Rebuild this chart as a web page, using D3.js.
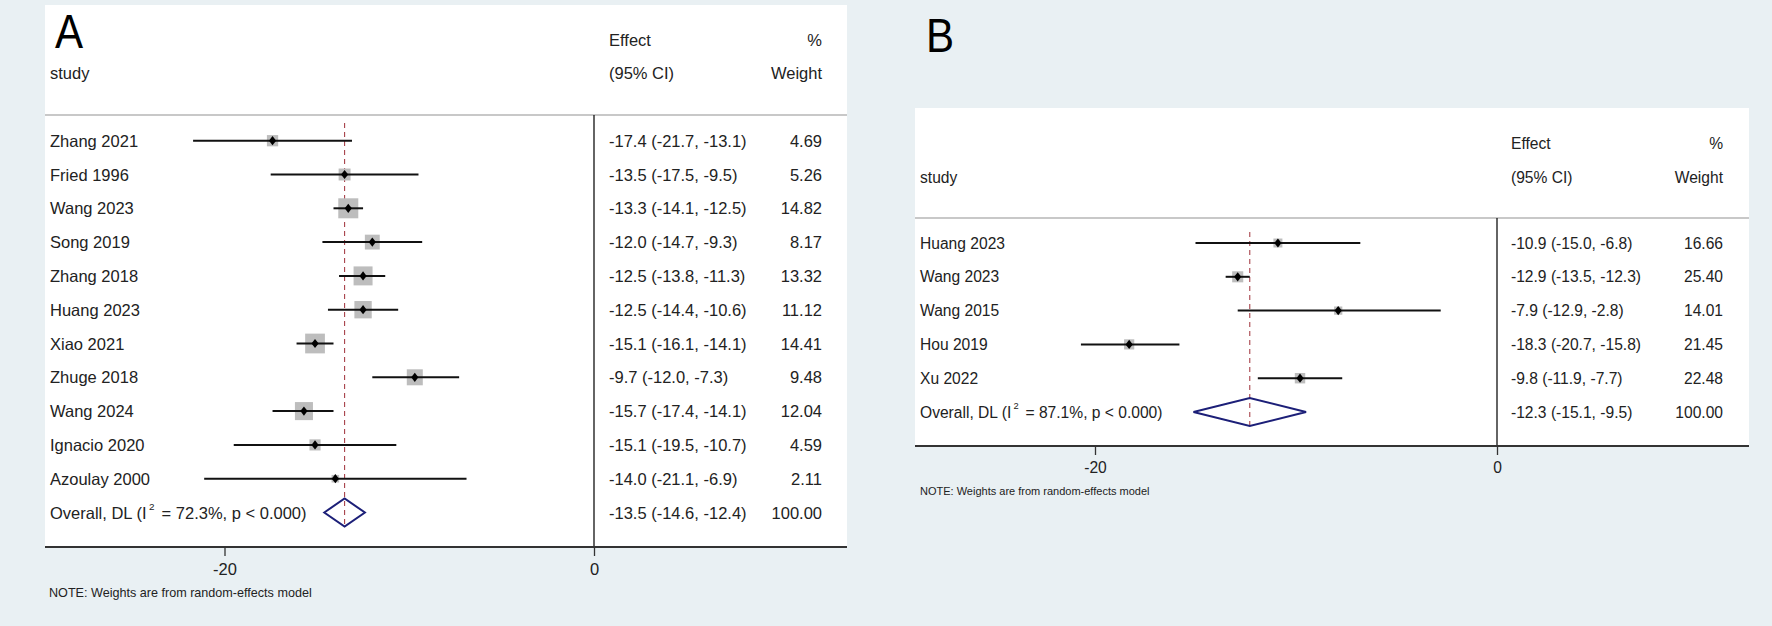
<!DOCTYPE html>
<html><head><meta charset="utf-8">
<script src="https://cdn.jsdelivr.net/npm/d3@7"></script>
<style>
html,body{margin:0;padding:0;background:#e9f0f3;}
svg{display:block;font-family:"Liberation Sans",Arial,sans-serif;}
</style></head>
<body><svg id="chart" width="1772" height="626"></svg>
<script>
// Panel A data
const studiesA = ["Zhang 2021","Fried 1996","Wang 2023","Song 2019","Zhang 2018","Huang 2023","Xiao 2021","Zhuge 2018","Wang 2024","Ignacio 2020","Azoulay 2000"];
const effectA = [-17.4,-13.5,-13.3,-12.0,-12.5,-12.5,-15.1,-9.7,-15.7,-15.1,-14.0];
const lowerA  = [-21.7,-17.5,-14.1,-14.7,-13.8,-14.4,-16.1,-12.0,-17.4,-19.5,-21.1];
const upperA  = [-13.1,-9.5,-12.5,-9.3,-11.3,-10.6,-14.1,-7.3,-14.1,-10.7,-6.9];
const weightA = [4.69,5.26,14.82,8.17,13.32,11.12,14.41,9.48,12.04,4.59,2.11];
const overallA = {label:"Overall, DL (I", i2:"72.3%", est:-13.5, lo:-14.6, hi:-12.4, w:100};

// Panel B data
const studiesB = ["Huang 2023","Wang 2023","Wang 2015","Hou 2019","Xu 2022"];
const effectB = [-10.9,-12.9,-7.9,-18.3,-9.8];
const lowerB  = [-15.0,-13.5,-12.9,-20.7,-11.9];
const upperB  = [-6.8,-12.3,-2.8,-15.8,-7.7];
const weightB = [16.66,25.40,14.01,21.45,22.48];
const overallB = {label:"Overall, DL (I", i2:"87.1%", est:-12.3, lo:-15.1, hi:-9.5, w:100};

const tickValues = [-20, 0];
const tickLabels = ["-20", "0"];
const noteText = "NOTE: Weights are from random-effects model";

const svg = d3.select("#chart");

function drawPanel(cfg){
  const g = svg.append("g");
  const studies = cfg.studies.map((s,i)=>({name:s,est:cfg.eff[i],lo:cfg.lo[i],hi:cfg.hi[i],w:cfg.w[i]}));
  const n = studies.length;
  const x = d3.scaleLinear().domain([-20,0]).range([cfg.x20, cfg.x0]);
  const y = d3.scaleLinear().domain([0,1]).range([cfg.row0, cfg.row0+cfg.rowStep]);
  const fs = cfg.fs;

  g.append("rect").attr("x",cfg.left).attr("y",cfg.top).attr("width",cfg.right-cfg.left).attr("height",cfg.axisY-cfg.top).attr("fill","#fff");

  g.append("text").attr("transform",`translate(${cfg.letterX},${cfg.letterY}) scale(0.86,1)`)
    .attr("font-size",49).attr("fill","#000").text(cfg.letter);

  // header
  const hdr = g.append("g").attr("font-size",fs).attr("fill","#222").attr("dominant-baseline","central");
  hdr.append("text").attr("x",cfg.colEff).attr("y",cfg.h1).text("Effect");
  hdr.append("text").attr("x",cfg.colW).attr("y",cfg.h1).attr("text-anchor","end").text("%");
  hdr.append("text").attr("x",cfg.colStudy).attr("y",cfg.h2).text("study");
  hdr.append("text").attr("x",cfg.colEff).attr("y",cfg.h2).text("(95% CI)");
  hdr.append("text").attr("x",cfg.colW).attr("y",cfg.h2).attr("text-anchor","end").text("Weight");

  g.append("line").attr("x1",cfg.left).attr("x2",cfg.right).attr("y1",cfg.hdrLine).attr("y2",cfg.hdrLine)
    .attr("stroke","#c8c8c8").attr("stroke-width",2);

  // zero line
  g.append("line").attr("x1",x(0)).attr("x2",x(0)).attr("y1",cfg.hdrLine).attr("y2",cfg.axisY)
    .attr("stroke","#111").attr("stroke-width",1.3);

  // overall dashed line
  g.append("line").attr("x1",x(cfg.ov.est)).attr("x2",x(cfg.ov.est)).attr("y1",cfg.dashTop).attr("y2",y(n)+14)
    .attr("stroke","#a8424a").attr("stroke-width",1.1).attr("stroke-dasharray","5,4");

  // rows
  const rows = g.selectAll("g.row").data(studies).join("g").attr("class","row")
    .attr("transform",(d,i)=>`translate(0,${y(i)})`);
  rows.append("rect")
    .attr("x",d=>x(d.est)-cfg.k*Math.sqrt(d.w)/2).attr("y",d=>-cfg.k*Math.sqrt(d.w)/2)
    .attr("width",d=>cfg.k*Math.sqrt(d.w)).attr("height",d=>cfg.k*Math.sqrt(d.w)).attr("fill","#bdbdbd");
  rows.append("line").attr("x1",d=>x(d.lo)).attr("x2",d=>x(d.hi)).attr("y1",0).attr("y2",0)
    .attr("stroke","#111").attr("stroke-width",2);
  rows.append("path").attr("d",d=>{const cx=x(d.est),s=3.6;return `M${cx-s},0L${cx},${-s-1}L${cx+s},0L${cx},${s+1}Z`;}).attr("fill","#000");
  rows.append("text").attr("x",cfg.colStudy).attr("y",0).attr("dominant-baseline","central").attr("font-size",fs).attr("fill","#222").text(d=>d.name);
  rows.append("text").attr("x",cfg.colEff).attr("y",0).attr("dominant-baseline","central").attr("font-size",fs).attr("fill","#222")
    .text(d=>`${d.est.toFixed(1)} (${d.lo.toFixed(1)}, ${d.hi.toFixed(1)})`);
  rows.append("text").attr("x",cfg.colW).attr("y",0).attr("text-anchor","end").attr("dominant-baseline","central").attr("font-size",fs).attr("fill","#222")
    .text(d=>d.w.toFixed(2));

  // overall
  const ov = cfg.ov, oy = y(n);
  g.append("path").attr("d",`M${x(ov.lo)},${oy}L${x(ov.est)},${oy-14}L${x(ov.hi)},${oy}L${x(ov.est)},${oy+14}Z`)
    .attr("fill","none").attr("stroke","#1c1f78").attr("stroke-width",2);
  const ot = g.append("text").attr("x",cfg.colStudy).attr("y",oy).attr("dominant-baseline","central").attr("font-size",fs).attr("fill","#222");
  ot.append("tspan").text(ov.label);
  ot.append("tspan").attr("font-size",fs*0.6).attr("dx",fs*0.15).attr("dy",-fs*0.4).text("2");
  ot.append("tspan").attr("dx",fs*0.15).attr("dy",fs*0.4).text(` = ${ov.i2}, p < 0.000)`);
  g.append("text").attr("x",cfg.colEff).attr("y",oy).attr("dominant-baseline","central").attr("font-size",fs).attr("fill","#222")
    .text(`${ov.est.toFixed(1)} (${ov.lo.toFixed(1)}, ${ov.hi.toFixed(1)})`);
  g.append("text").attr("x",cfg.colW).attr("y",oy).attr("text-anchor","end").attr("dominant-baseline","central").attr("font-size",fs).attr("fill","#222")
    .text(ov.w.toFixed(2));

  // axis
  g.append("line").attr("x1",cfg.left).attr("x2",cfg.right).attr("y1",cfg.axisY).attr("y2",cfg.axisY)
    .attr("stroke","#333").attr("stroke-width",2);
  const ax = g.append("g").attr("transform",`translate(0,${cfg.axisY})`)
    .call(d3.axisBottom(x).tickValues(tickValues).tickSize(9).tickSizeOuter(0).tickPadding(7)
      .tickFormat((d,i)=>tickLabels[i]));
  ax.select(".domain").remove();
  ax.selectAll(".tick line").attr("stroke","#333").attr("stroke-width",1.3);
  ax.selectAll(".tick text").attr("font-size",fs).attr("fill","#222").attr("font-family","Liberation Sans, Arial, sans-serif");

  g.append("text").attr("x",cfg.noteX).attr("y",cfg.noteY).attr("dominant-baseline","central").attr("font-size",cfg.noteFs).attr("fill","#222").text(noteText);
}

drawPanel({letter:"A",letterX:55,letterY:48,
  studies:studiesA,eff:effectA,lo:lowerA,hi:upperA,w:weightA,ov:overallA,
  left:45,right:847,top:5,axisY:547,hdrLine:115,dashTop:123,
  x20:224.5,x0:594,row0:140.7,rowStep:33.8,
  colStudy:50,colEff:609,colW:822,h1:40,h2:73,fs:16.5,k:5.2,
  noteX:49,noteY:593,noteFs:12.6});

drawPanel({letter:"B",letterX:926,letterY:52,
  studies:studiesB,eff:effectB,lo:lowerB,hi:upperB,w:weightB,ov:overallB,
  left:915,right:1749,top:108,axisY:446,hdrLine:218,dashTop:232,
  x20:1095,x0:1497,row0:243,rowStep:33.8,
  colStudy:920,colEff:1511,colW:1723,h1:143,h2:177,fs:15.6,k:2.2,
  noteX:920,noteY:491,noteFs:11});
</script></body></html>
